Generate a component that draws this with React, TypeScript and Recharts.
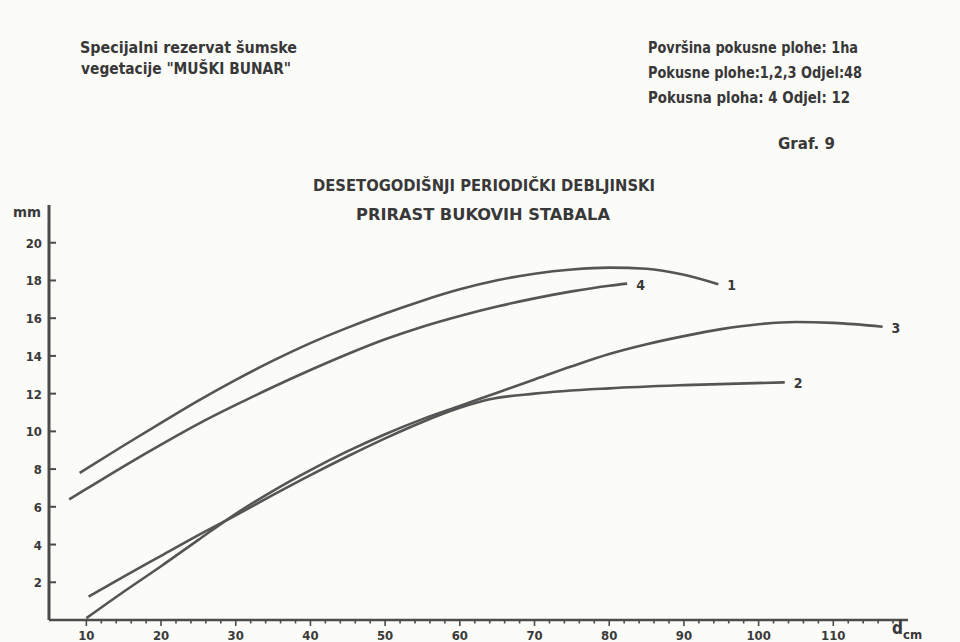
import { LineChart, Line, XAxis, YAxis } from "recharts";

// ten-year diameter increment (mm) by breast-height diameter (cm), plots 1-4
const CURVE_1 = [
  { x: 9.1, y: 7.8 }, { x: 15, y: 9.25 }, { x: 20, y: 10.45 }, { x: 25, y: 11.63 },
  { x: 30, y: 12.73 }, { x: 35, y: 13.75 }, { x: 40, y: 14.68 }, { x: 45, y: 15.5 },
  { x: 50, y: 16.25 }, { x: 55, y: 16.93 }, { x: 60, y: 17.53 }, { x: 65, y: 18.01 },
  { x: 70, y: 18.36 }, { x: 75, y: 18.58 }, { x: 80, y: 18.68 }, { x: 85, y: 18.62 },
  { x: 90, y: 18.3 }, { x: 94.6, y: 17.8 },
];
const CURVE_2 = [
  { x: 10.3, y: 1.24 }, { x: 15, y: 2.3 }, { x: 20, y: 3.4 }, { x: 25, y: 4.5 },
  { x: 30, y: 5.55 }, { x: 35, y: 6.63 }, { x: 40, y: 7.68 }, { x: 45, y: 8.68 },
  { x: 50, y: 9.63 }, { x: 55, y: 10.5 }, { x: 60, y: 11.25 }, { x: 64, y: 11.7 },
  { x: 70, y: 12.0 }, { x: 80, y: 12.28 }, { x: 90, y: 12.45 }, { x: 103.5, y: 12.6 },
];
const CURVE_3 = [
  { x: 10, y: 0.1 }, { x: 15, y: 1.5 }, { x: 20, y: 2.85 }, { x: 25, y: 4.25 },
  { x: 30, y: 5.63 }, { x: 35, y: 6.85 }, { x: 40, y: 7.95 }, { x: 45, y: 8.95 },
  { x: 50, y: 9.85 }, { x: 55, y: 10.65 }, { x: 60, y: 11.35 }, { x: 65, y: 12.05 },
  { x: 70, y: 12.75 }, { x: 75, y: 13.45 }, { x: 80, y: 14.1 }, { x: 85, y: 14.62 },
  { x: 90, y: 15.05 }, { x: 95, y: 15.42 }, { x: 100, y: 15.68 }, { x: 105, y: 15.8 },
  { x: 110, y: 15.75 }, { x: 116.6, y: 15.55 },
];
const CURVE_4 = [
  { x: 7.7, y: 6.4 }, { x: 10, y: 6.95 }, { x: 15, y: 8.15 }, { x: 20, y: 9.3 },
  { x: 25, y: 10.4 }, { x: 30, y: 11.4 }, { x: 35, y: 12.35 }, { x: 40, y: 13.25 },
  { x: 45, y: 14.1 }, { x: 50, y: 14.88 }, { x: 55, y: 15.55 }, { x: 60, y: 16.12 },
  { x: 65, y: 16.62 }, { x: 70, y: 17.05 }, { x: 75, y: 17.42 }, { x: 80, y: 17.72 },
  { x: 82.4, y: 17.83 },
];

const SERIES = [
  { name: "1", data: CURVE_1 },
  { name: "2", data: CURVE_2 },
  { name: "3", data: CURVE_3 },
  { name: "4", data: CURVE_4 },
];

const X_LABELS = [10, 20, 30, 40, 50, 60, 70, 80, 90, 100, 110];
const X_TICKS = [
  10, 12, 14, 16, 18, 20, 22, 24, 26, 28, 30, 32, 34, 36, 38, 40, 42, 44, 46, 48,
  50, 52, 54, 56, 58, 60, 62, 64, 66, 68, 70, 72, 74, 76, 78, 80, 82, 84, 86, 88,
  90, 92, 94, 96, 98, 100, 102, 104, 106, 108, 110, 112, 114, 116, 118,
];
const Y_TICKS = [2, 4, 6, 8, 10, 12, 14, 16, 18, 20];

const INK = "#4b4b4b";
const FONT = "'DejaVu Sans Condensed', 'DejaVu Sans', sans-serif";

function XTick({ x, y, payload }: any) {
  const major = X_LABELS.includes(payload.value);
  return (
    <g>
      <line x1={x} x2={x} y1={y} y2={y + (major ? 6 : 3.5)} stroke={INK} strokeWidth={1.6} />
      {major && (
        <text x={x} y={y + 20} textAnchor="middle" fill="#3a3a3a" fontSize={13}
          fontWeight="bold" fontFamily={FONT}>
          {payload.value}
        </text>
      )}
    </g>
  );
}

function YTick({ x, y, payload }: any) {
  return (
    <g>
      <line x1={x} x2={x + 7} y1={y} y2={y} stroke={INK} strokeWidth={2} />
      <text x={x - 7} y={y + 5} textAnchor="end" fill="#3a3a3a" fontSize={13}
        fontWeight="bold" fontFamily={FONT}>
        {payload.value}
      </text>
    </g>
  );
}

function Header() {
  const t = { fill: "#383838", fontFamily: FONT, fontWeight: "bold" as const };
  return (
    <svg width={960} height={642} style={{ position: "absolute", left: 0, top: 0, pointerEvents: "none" }}>
      <text x={80} y={53} fontSize={15} textLength={217} lengthAdjust="spacingAndGlyphs" {...t}>
        Specijalni rezervat šumske
      </text>
      <text x={81} y={74} fontSize={15} textLength={210} lengthAdjust="spacingAndGlyphs" {...t}>
        vegetacije "MUŠKI BUNAR"
      </text>
      <text x={648} y={53} fontSize={15} textLength={210} lengthAdjust="spacingAndGlyphs" {...t}>
        Površina pokusne plohe: 1ha
      </text>
      <text x={648} y={78} fontSize={15} textLength={214} lengthAdjust="spacingAndGlyphs" {...t}>
        Pokusne plohe:1,2,3  Odjel:48
      </text>
      <text x={648} y={103} fontSize={15} textLength={202} lengthAdjust="spacingAndGlyphs" {...t}>
        Pokusna ploha: 4  Odjel: 12
      </text>
      <text x={778} y={149} fontSize={15} textLength={57} lengthAdjust="spacingAndGlyphs" {...t}>
        Graf. 9
      </text>
      <text x={313} y={191} fontSize={16} textLength={342} lengthAdjust="spacingAndGlyphs" {...t}>
        DESETOGODIŠNJI PERIODIČKI DEBLJINSKI
      </text>
      <text x={356} y={220} fontSize={16} textLength={254} lengthAdjust="spacingAndGlyphs" {...t}>
        PRIRAST BUKOVIH STABALA
      </text>
      <text x={13} y={217} fontSize={14} textLength={28} lengthAdjust="spacingAndGlyphs" {...t}>mm</text>
      <text x={892} y={634} fontSize={17} {...t}>
        d<tspan fontSize={13} dy={5}>cm</tspan>
      </text>
    </svg>
  );
}

export default function App() {
  return (
    <div style={{ position: "absolute", left: 0, top: 0, width: 960, height: 642, background: "#fbfbf8" }}>
      <LineChart width={960} height={642} margin={{ top: 205, right: 52, bottom: 0, left: 0 }}>
        <XAxis
          type="number"
          dataKey="x"
          domain={[5, 120]}
          ticks={X_TICKS}
          interval={0}
          height={22}
          tickSize={0}
          tickMargin={0}
          tickLine={false}
          axisLine={{ stroke: INK, strokeWidth: 2.5 }}
          tick={<XTick />}
          allowDataOverflow
        />
        <YAxis
          type="number"
          domain={[0, 22]}
          ticks={Y_TICKS}
          interval={0}
          width={49}
          tickSize={0}
          tickMargin={0}
          tickLine={false}
          axisLine={{ stroke: INK, strokeWidth: 3 }}
          tick={<YTick />}
          allowDataOverflow
        />
        {SERIES.map((s) => (
          <Line
            key={s.name}
            data={s.data}
            dataKey="y"
            name={s.name}
            type="monotone"
            stroke="#555555"
            strokeWidth={2.6}
            dot={false}
            activeDot={false}
            isAnimationActive={false}
            label={(p: any) =>
              p.index === s.data.length - 1 ? (
                <text key={s.name} x={p.x + 9} y={p.y + 6} fill="#3a3a3a" fontSize={14}
                  fontWeight="bold" fontFamily={FONT}>
                  {s.name}
                </text>
              ) : null
            }
          />
        ))}
      </LineChart>
      <Header />
    </div>
  );
}
